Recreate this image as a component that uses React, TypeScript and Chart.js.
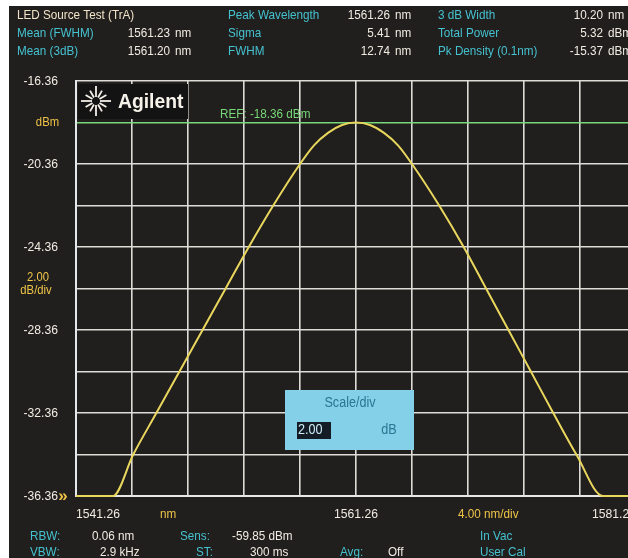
import React, { useEffect, useRef } from "react";
import { Chart, registerables } from "chart.js";

Chart.register(...registerables);

// ---- data ----
const wavelengthNm = [
  1541.26, 1543.9, 1545.35, 1547.0, 1548.65, 1550.3, 1551.95, 1553.6, 1555.35,
  1557.26, 1558.26, 1559.26, 1560.26, 1561.26, 1562.26, 1563.26, 1564.26, 1565.26,
  1567.2, 1568.95, 1570.55, 1572.15, 1573.75, 1575.35, 1577.0, 1578.9, 1581.26,
];
const powerDbm = [
  -36.36, -36.36, -34.36, -32.36, -30.36, -28.36, -26.36, -24.36, -22.36,
  -20.36, -19.46, -18.86, -18.48, -18.36, -18.48, -18.86, -19.46, -20.36,
  -22.36, -24.36, -26.36, -28.36, -30.36, -32.36, -34.36, -36.36, -36.36,
];
const xTickValues = [1541.26, 1545.26, 1549.26, 1553.26, 1557.26, 1561.26, 1565.26, 1569.26, 1573.26, 1577.26, 1581.26];
const yTickValues = [-36.36, -34.36, -32.36, -30.36, -28.36, -26.36, -24.36, -22.36, -20.36, -18.36, -16.36];
const yLabelValues = [-16.36, -20.36, -24.36, -28.36, -32.36, -36.36];
const xLabelValues = [1541.26, 1561.26, 1581.26];
const refLevel = -18.36;

const headerLabels = [
  ["LED Source Test (TrA)", "Peak Wavelength", "3 dB Width"],
  ["Mean (FWHM)", "Sigma", "Total Power"],
  ["Mean (3dB)", "FWHM", "Pk Density (0.1nm)"],
];
const headerNumbers = [
  ["", "1561.26", "10.20"],
  ["1561.23", "5.41", "5.32"],
  ["1561.20", "12.74", "-15.37"],
];
const headerUnits = [
  ["", "nm", "nm"],
  ["nm", "nm", "dBm"],
  ["nm", "nm", "dBm"],
];

const CYAN = "#45c2cf";
const WHITE = "#f1ece2";
const YELLOW = "#efc548";
const GREEN = "#76d876";
const GRID = "#dedcd6";
const BG = "#211e1e";
const TRACE = "#e8d75c";
const FONT = "'Liberation Sans', Arial, sans-serif";

function txt(ctx: CanvasRenderingContext2D, s: string, x: number, y: number, color: string,
  align: CanvasTextAlign = "left", size = 13, weight = "normal", sx = 0.9) {
  ctx.save();
  ctx.translate(x, y);
  ctx.scale(sx, 1);
  ctx.font = `${weight} ${size}px ${FONT}`;
  ctx.fillStyle = color;
  ctx.textAlign = align;
  ctx.textBaseline = "middle";
  ctx.fillText(s, 0, 0);
  ctx.restore();
}

const screenPlugin = {
  id: "screen",
  beforeDraw(chart: any) {
    const ctx = chart.ctx as CanvasRenderingContext2D;
    ctx.save();
    ctx.fillStyle = "#ffffff";
    ctx.fillRect(0, 0, chart.width, chart.height);
    ctx.fillStyle = BG;
    ctx.fillRect(9, 6, chart.width, chart.height);
    ctx.restore();
  },
  afterDraw(chart: any) {
    const ctx = chart.ctx as CanvasRenderingContext2D;
    const xs = chart.scales.x;
    const ys = chart.scales.y;
    const area = chart.chartArea;

    // header
    const rowsY = [15, 33, 51];
    const labelX = [17, 228, 438];
    const numRight = [170, 390, 603];
    headerLabels.forEach((row, r) => {
      row.forEach((lab, c) => {
        txt(ctx, lab, labelX[c], rowsY[r], r === 0 && c === 0 ? "#f2e4c8" : CYAN);
        if (headerNumbers[r][c]) {
          txt(ctx, headerNumbers[r][c], numRight[c], rowsY[r], WHITE, "right");
          txt(ctx, headerUnits[r][c], numRight[c] + 5, rowsY[r], WHITE, "left");
        }
      });
    });

    // y labels
    yLabelValues.forEach((v) => {
      txt(ctx, v.toFixed(2), 58, ys.getPixelForValue(v), WHITE, "right", 13.5);
    });
    txt(ctx, "dBm", 59, ys.getPixelForValue(refLevel), YELLOW, "right", 12.5);
    txt(ctx, "2.00", 38, 278, YELLOW, "center", 12.5);
    txt(ctx, "dB/div", 36, 291, YELLOW, "center", 12.5);
    txt(ctx, "»", 63, ys.getPixelForValue(-36.36), YELLOW, "center", 17, "bold", 1);

    // x labels
    const xl = 514;
    txt(ctx, xLabelValues[0].toFixed(2), xs.getPixelForValue(xLabelValues[0]), xl, WHITE, "left", 13.5);
    txt(ctx, xLabelValues[1].toFixed(2), xs.getPixelForValue(xLabelValues[1]), xl, WHITE, "center", 13.5);
    txt(ctx, xLabelValues[2].toFixed(2), xs.getPixelForValue(xLabelValues[2]), xl, WHITE, "right", 13.5);
    txt(ctx, "nm", 160, xl, YELLOW, "left", 13);
    txt(ctx, "4.00 nm/div", 458, xl, YELLOW, "left", 13);

    // bottom info
    const r1 = 536, r2 = 552;
    txt(ctx, "RBW:", 30, r1, CYAN);
    txt(ctx, "0.06 nm", 92, r1, WHITE);
    txt(ctx, "Sens:", 180, r1, CYAN);
    txt(ctx, "-59.85 dBm", 232, r1, WHITE);
    txt(ctx, "In Vac", 480, r1, CYAN);
    txt(ctx, "VBW:", 30, r2, CYAN);
    txt(ctx, "2.9 kHz", 100, r2, WHITE);
    txt(ctx, "ST:", 196, r2, CYAN);
    txt(ctx, "300 ms", 250, r2, WHITE);
    txt(ctx, "Avg:", 340, r2, CYAN);
    txt(ctx, "Off", 388, r2, WHITE);
    txt(ctx, "User Cal", 480, r2, CYAN);

    // REF label
    txt(ctx, "REF: -18.36 dBm", 220, ys.getPixelForValue(refLevel) - 8, GREEN, "left", 13);

    // Agilent logo block
    ctx.save();
    ctx.fillStyle = "#141313";
    ctx.fillRect(area.left + 2, area.top + 3, 110, 35);
    const cx = 96, cy = 101;
    ctx.strokeStyle = "#f4f0e8";
    ctx.lineWidth = 1.8;
    for (let i = 0; i < 12; i++) {
      const a = (i * Math.PI) / 6;
      const r0 = 4, r1b = i % 3 === 0 ? 15 : 12;
      ctx.beginPath();
      ctx.moveTo(cx + Math.cos(a) * r0, cy + Math.sin(a) * r0);
      ctx.lineTo(cx + Math.cos(a) * r1b, cy + Math.sin(a) * r1b);
      ctx.stroke();
    }
    ctx.restore();
    txt(ctx, "Agilent", 118, 102, "#f6f2ea", "left", 21, "bold", 0.92);

    // Scale/div box
    ctx.save();
    ctx.fillStyle = "#84d0e8";
    ctx.fillRect(285, 390, 129, 60);
    ctx.fillStyle = "#141c26";
    ctx.fillRect(297, 422, 34, 17);
    ctx.restore();
    txt(ctx, "Scale/div", 350, 403, "#2a7590", "center", 14);
    txt(ctx, "2.00", 298, 430.5, "#cdeef8", "left", 14);
    txt(ctx, "dB", 389, 430.5, "#2a7590", "center", 14);
  },
};

export default function App() {
  const ref = useRef<HTMLCanvasElement | null>(null);
  useEffect(() => {
    if (!ref.current) return;
    const chart = new Chart(ref.current, {
      type: "line",
      data: {
        datasets: [
          {
            data: wavelengthNm.map((x, i) => ({ x, y: powerDbm[i] })),
            borderColor: TRACE,
            borderWidth: 2,
            pointRadius: 0,
            cubicInterpolationMode: "monotone",
            clip: { left: 2, top: 2, right: 2, bottom: 4 } as any,
          },
        ],
      },
      options: {
        responsive: false,
        animation: false,
        devicePixelRatio: 1,
        layout: { padding: { left: 76, top: 81, right: 24, bottom: 62 } },
        plugins: { legend: { display: false }, tooltip: { enabled: false } },
        scales: {
          x: {
            type: "linear",
            min: xTickValues[0],
            max: xTickValues[xTickValues.length - 1],
            afterBuildTicks: (s: any) => { s.ticks = xTickValues.map((v) => ({ value: v })); },
            ticks: { display: false },
            grid: { color: GRID, lineWidth: 1.6, drawTicks: false },
            border: { display: true, color: "#e8e8e4", width: 2 },
          },
          y: {
            type: "linear",
            min: yTickValues[0],
            max: yTickValues[yTickValues.length - 1],
            afterBuildTicks: (s: any) => { s.ticks = yTickValues.map((v) => ({ value: v })); },
            ticks: { display: false },
            grid: {
              color: (c: any) => (c.tick && Math.abs(c.tick.value - refLevel) < 1e-6 ? GREEN : GRID),
              lineWidth: 1.6,
              drawTicks: false,
            },
            border: { display: true, color: "#e4e8ec", width: 2 },
          },
        },
      },
      plugins: [screenPlugin],
    });
    return () => chart.destroy();
  }, []);
  return (
    <div style={{ position: "fixed", left: 0, top: 0, width: 628, height: 558, overflow: "hidden", background: "#fff" }}>
      <canvas ref={ref} width={660} height={558} style={{ position: "absolute", left: 0, top: 0, width: 660, height: 558 }} />
    </div>
  );
}
